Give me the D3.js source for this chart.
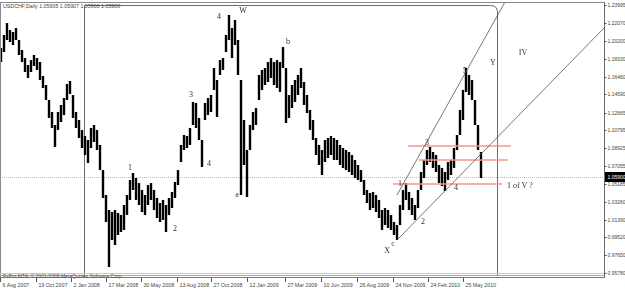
<!DOCTYPE html>
<html>
<head>
<meta charset="utf-8">
<script src="https://cdnjs.cloudflare.com/ajax/libs/d3/7.8.5/d3.min.js"></script>
<style>
body { margin: 0; background: #fff; }
svg { display: block; }
</style>
</head>
<body>
<div id="chart"></div>
<script>
// USDCHF daily, one sample per ~4-5 sessions (high / low)
const highs = [
  1.1947,1.2084,1.2210,1.2136,1.2115,1.2157,1.2031,1.1926,1.1841,1.1768,
  1.1820,1.1873,1.1841,1.1799,1.1652,1.1557,1.1399,1.1273,1.1136,1.1273,
  1.1347,1.1420,1.1568,1.1599,1.1452,1.1273,1.1189,1.1084,1.1020,1.0978,
  1.1105,1.1136,1.1084,1.0926,1.0662,1.0399,1.0241,1.0220,1.0241,1.0210,
  1.0189,1.0294,1.0399,1.0557,1.0631,1.0578,1.0525,1.0452,1.0399,1.0504,
  1.0525,1.0452,1.0368,1.0315,1.0347,1.0294,1.0368,1.0431,1.0536,1.0662,
  1.0926,1.1031,1.1020,1.1105,1.1378,1.1368,1.1210,1.0978,1.1368,1.1420,
  1.1452,1.1736,1.1610,1.1820,1.1841,1.2084,1.2294,1.2157,1.2242,1.2031,
  1.1610,1.1189,1.0873,1.1136,1.1273,1.1315,1.1663,1.1715,1.1736,1.1799,
  1.1841,1.1799,1.1820,1.1799,1.1957,1.1736,1.1452,1.1557,1.1610,1.1663,
  1.1736,1.1589,1.1452,1.1294,1.1189,1.0999,1.0926,1.0873,1.0978,1.0999,
  1.1020,1.0999,1.0978,1.0926,1.0894,1.0873,1.0852,1.0820,1.0768,1.0715,
  1.0662,1.0557,1.0452,1.0420,1.0431,1.0399,1.0347,1.0241,1.0262,1.0241,
  1.0189,1.0115,1.0083,1.0294,1.0452,1.0525,1.0431,1.0368,1.0294,1.0452,
  1.0641,1.0768,1.0873,1.0905,1.0852,1.0820,1.0715,1.0684,1.0641,1.0747,
  1.0768,1.0894,1.1031,1.1294,1.1505,1.1736,1.1663,1.1610,1.1399,1.1136,
  1.0852
];
const lows = [
  1.1799,1.1905,1.2031,1.2010,1.1978,1.2031,1.1873,1.1799,1.1694,1.1631,
  1.1694,1.1757,1.1715,1.1610,1.1526,1.1399,1.1210,1.1105,1.0905,1.1084,
  1.1168,1.1241,1.1399,1.1463,1.1210,1.1105,1.0999,1.0894,1.0820,1.0736,
  1.0894,1.0957,1.0873,1.0662,1.0368,1.0115,0.9641,0.9925,0.9873,0.9978,
  1.0010,1.0031,1.0189,1.0347,1.0452,1.0347,1.0294,1.0220,1.0189,1.0294,
  1.0347,1.0241,1.0157,1.0115,1.0136,1.0010,1.0189,1.0262,1.0368,1.0504,
  1.0747,1.0873,1.0894,1.0926,1.1136,1.1105,1.0978,1.0694,1.1189,1.1241,
  1.1273,1.1505,1.1220,1.1663,1.1715,1.1905,1.2031,1.1841,1.1978,1.1663,
  1.0399,1.0715,1.0378,1.0873,1.1084,1.1136,1.1399,1.1505,1.1557,1.1589,
  1.1631,1.1557,1.1526,1.1484,1.1736,1.1157,1.1210,1.1315,1.1378,1.1452,
  1.1526,1.1347,1.1262,1.1084,1.0978,1.0820,1.0715,1.0610,1.0747,1.0789,
  1.0820,1.0768,1.0768,1.0715,1.0684,1.0662,1.0641,1.0610,1.0578,1.0557,
  1.0536,1.0399,1.0315,1.0241,1.0262,1.0220,1.0157,1.0031,1.0083,1.0052,
  1.0031,0.9978,0.9925,1.0083,1.0241,1.0347,1.0241,1.0189,1.0136,1.0262,
  1.0452,1.0578,1.0715,1.0747,1.0684,1.0641,1.0525,1.0494,1.0441,1.0557,
  1.0610,1.0684,1.0873,1.1031,1.1189,1.1484,1.1452,1.1399,1.1136,1.0873,
  1.0578
];

const timeLabels = ["6 Aug 2007","19 Oct 2007","2 Jan 2008","17 Mar 2008","30 May 2008",
  "13 Aug 2008","27 Oct 2008","12 Jan 2009","27 Mar 2009","10 Jun 2009","26 Aug 2009",
  "24 Nov 2009","24 Feb 2010","25 May 2010"];
const timeTickAt = [-0.33,11.67,23.33,35,46.67,58.67,70,82,94.67,106.67,118.67,130.67,142.33,154];

const priceTicks = ["1.23995","1.22070","1.20200","1.18330","1.16460","1.14590","1.12665",
  "1.10795","1.08925","1.07055","1.05185","1.03260","1.01390","0.99520","0.97650","0.95780"];

const lastPrice = 1.059;
const header = "USDCHF,Daily  1.05905 1.05907 1.05900 1.05900";

// horizontal levels (red)
const levels = [
  {price: 1.0915, from: 135.7, to: 170},
  {price: 1.0768, from: 139.3, to: 169},
  {price: 1.0515, from: 130.7, to: 167}
];
// trend lines
const trendLines = [
  {i1: 132, p1: 1.0399, i2: 168, p2: 1.2431},
  {i1: 132, p1: 0.9925, i2: 201, p2: 1.2157}
];
// wave labels
const waveLabels = [
  {t: "4", i: 72.7, p: 1.2284}, {t: "W", i: 80.7, p: 1.2347}, {t: "b", i: 95.7, p: 1.2021},
  {t: "3", i: 63.3, p: 1.1463}, {t: "1", i: 43, p: 1.0694}, {t: "4", i: 69.3, p: 1.0736},
  {t: "a", i: 78.7, p: 1.0410}, {t: "2", i: 58, p: 1.0052}, {t: "5", i: 154.7, p: 1.1715},
  {t: "Y", i: 164, p: 1.1799}, {t: "IV", i: 174, p: 1.1905}, {t: "3", i: 142, p: 1.0957},
  {t: "1", i: 133, p: 1.0525}, {t: "4", i: 151.7, p: 1.0483}, {t: "2", i: 140.7, p: 1.0126},
  {t: "X", i: 128.7, p: 0.9820}, {t: "c", i: 130.7, p: 0.9894}
];
const noteText = {t: "1 of V ?", i: 168.7, p: 1.0504};
const box = {i1: 27.67, i2: 165.3, p1: 1.23995, p2: 0.9557};

const W = 625, H = 290;
const plotRight = 604, plotTop = 2, plotBottom = 278;
const small = "5px";

const svg = d3.select("#chart").append("svg")
  .attr("width", W).attr("height", H)
  .style("font-family", "'Liberation Sans', Arial, sans-serif");

const x = d3.scaleLinear().domain([0, 160]).range([1, 481]);
const y = d3.scaleLinear().domain([0.9578, 1.23995]).range([273, 5]);

const defs = svg.append("defs");
defs.append("clipPath").attr("id", "plotclip")
  .append("rect").attr("x", 0).attr("y", plotTop).attr("width", plotRight).attr("height", plotBottom - plotTop);
defs.append("filter").attr("id", "gray")
  .append("feColorMatrix").attr("type", "saturate").attr("values", 0);

const plot = svg.append("g").attr("clip-path", "url(#plotclip)");

// current price dotted line
plot.append("line")
  .attr("x1", 0).attr("x2", plotRight)
  .attr("y1", Math.round(y(lastPrice)) + 0.5).attr("y2", Math.round(y(lastPrice)) + 0.5)
  .attr("stroke", "#d6b48e").attr("stroke-dasharray", "1,1");

// rounded frame object
const bx1 = Math.round(x(box.i1)) + 0.5, bx2 = Math.round(x(box.i2)) + 0.5;
const by1 = Math.round(y(box.p1)) + 0.5, by2 = Math.round(y(box.p2)) + 0.5;
plot.append("path")
  .attr("d", `M${bx1},${by2 + 5}V${by1}H${bx2 - 7}Q${bx2},${by1} ${bx2},${by1 + 7}V${by2}H${bx1}`)
  .attr("fill", "none").attr("stroke", "#6a6a6a").attr("stroke-width", 1);

// bars
plot.append("g")
  .selectAll("line")
  .data(highs.map((h, i) => ({i: i, h: h, l: lows[i]})))
  .join("line")
    .attr("x1", d => x(d.i)).attr("x2", d => x(d.i))
    .attr("y1", d => y(d.h)).attr("y2", d => y(d.l))
    .attr("stroke", "#000").attr("stroke-width", 2.4);

// red levels
plot.append("g")
  .selectAll("line")
  .data(levels)
  .join("line")
    .attr("x1", d => x(d.from)).attr("x2", d => x(d.to))
    .attr("y1", d => y(d.price)).attr("y2", d => y(d.price))
    .attr("stroke", "#f4978e").attr("stroke-width", 1.6);

// trend lines
plot.append("g")
  .selectAll("line")
  .data(trendLines)
  .join("line")
    .attr("x1", d => x(d.i1)).attr("y1", d => y(d.p1))
    .attr("x2", d => x(d.i2)).attr("y2", d => y(d.p2))
    .attr("stroke", "#555").attr("stroke-width", 0.8);

// wave labels
const labels = plot.append("g")
  .attr("filter", "url(#gray)")
  .style("font-family", "'Liberation Serif', 'Times New Roman', serif")
  .style("font-size", "8px");
labels.selectAll("text")
  .data(waveLabels)
  .join("text")
    .attr("x", d => x(d.i)).attr("y", d => y(d.p))
    .attr("text-anchor", "middle").attr("dy", "0.35em")
    .attr("fill", "#333")
    .text(d => d.t);

labels.append("text")
  .attr("x", x(noteText.i)).attr("y", y(noteText.p)).attr("dy", "0.35em")
  .attr("fill", "#333")
  .text(noteText.t);

// plot border
svg.append("line").attr("x1", 0).attr("x2", plotRight).attr("y1", plotTop + 0.5).attr("y2", plotTop + 0.5)
  .attr("stroke", "#8a8a8a");
svg.append("line").attr("x1", 0.5).attr("x2", 0.5).attr("y1", plotTop).attr("y2", plotBottom)
  .attr("stroke", "#8a8a8a");

// bottom band
[[273.5, "#c8c8c8"], [275.5, "#a8a8a8"], [277.5, "#7a7a7a"]].forEach(function (b) {
  svg.append("line").attr("x1", 0).attr("x2", plotRight).attr("y1", b[0]).attr("y2", b[0])
    .attr("stroke", b[1]);
});
svg.append("text")
  .attr("x", 3).attr("y", 278)
  .style("font-size", small).attr("fill", "#555")
  .text("FxPro MT4, \u00a9 2001-2009 MetaQuotes Software Corp.");

// header
svg.append("text")
  .attr("x", 3).attr("y", 8)
  .style("font-size", "5.3px").attr("fill", "#444")
  .text(header);

// right axis
svg.append("line").attr("x1", plotRight + 0.5).attr("x2", plotRight + 0.5)
  .attr("y1", plotTop).attr("y2", plotBottom).attr("stroke", "#6a6a6a");
const ra = svg.append("g").selectAll("g")
  .data(priceTicks)
  .join("g")
    .attr("transform", d => `translate(${plotRight}, ${Math.round(y(+d)) + 0.5})`);
ra.append("line").attr("x1", 0).attr("x2", 2.5).attr("stroke", "#555");
ra.append("text").attr("x", 3.5).attr("dy", "0.35em")
  .style("font-size", small).attr("fill", "#444")
  .text(d => d);

// last price box
const ly = Math.round(y(lastPrice));
svg.append("rect").attr("x", plotRight + 1).attr("y", ly - 5).attr("width", W - plotRight - 1).attr("height", 10)
  .attr("fill", "#000");
svg.append("text").attr("x", plotRight + 3.5).attr("y", ly).attr("dy", "0.35em")
  .style("font-size", small).attr("fill", "#fff").text(lastPrice.toFixed(5));

// time axis
const ta = svg.append("g").selectAll("g")
  .data(timeLabels)
  .join("g")
    .attr("transform", (d, k) => `translate(${Math.round(x(timeTickAt[k])) + 0.5}, ${plotBottom})`);
ta.append("line").attr("y1", 0).attr("y2", 4).attr("stroke", "#555");
ta.append("text").attr("x", 2).attr("y", 9)
  .style("font-size", "5.3px").attr("fill", "#444")
  .text(d => d);
</script>
</body>
</html>
